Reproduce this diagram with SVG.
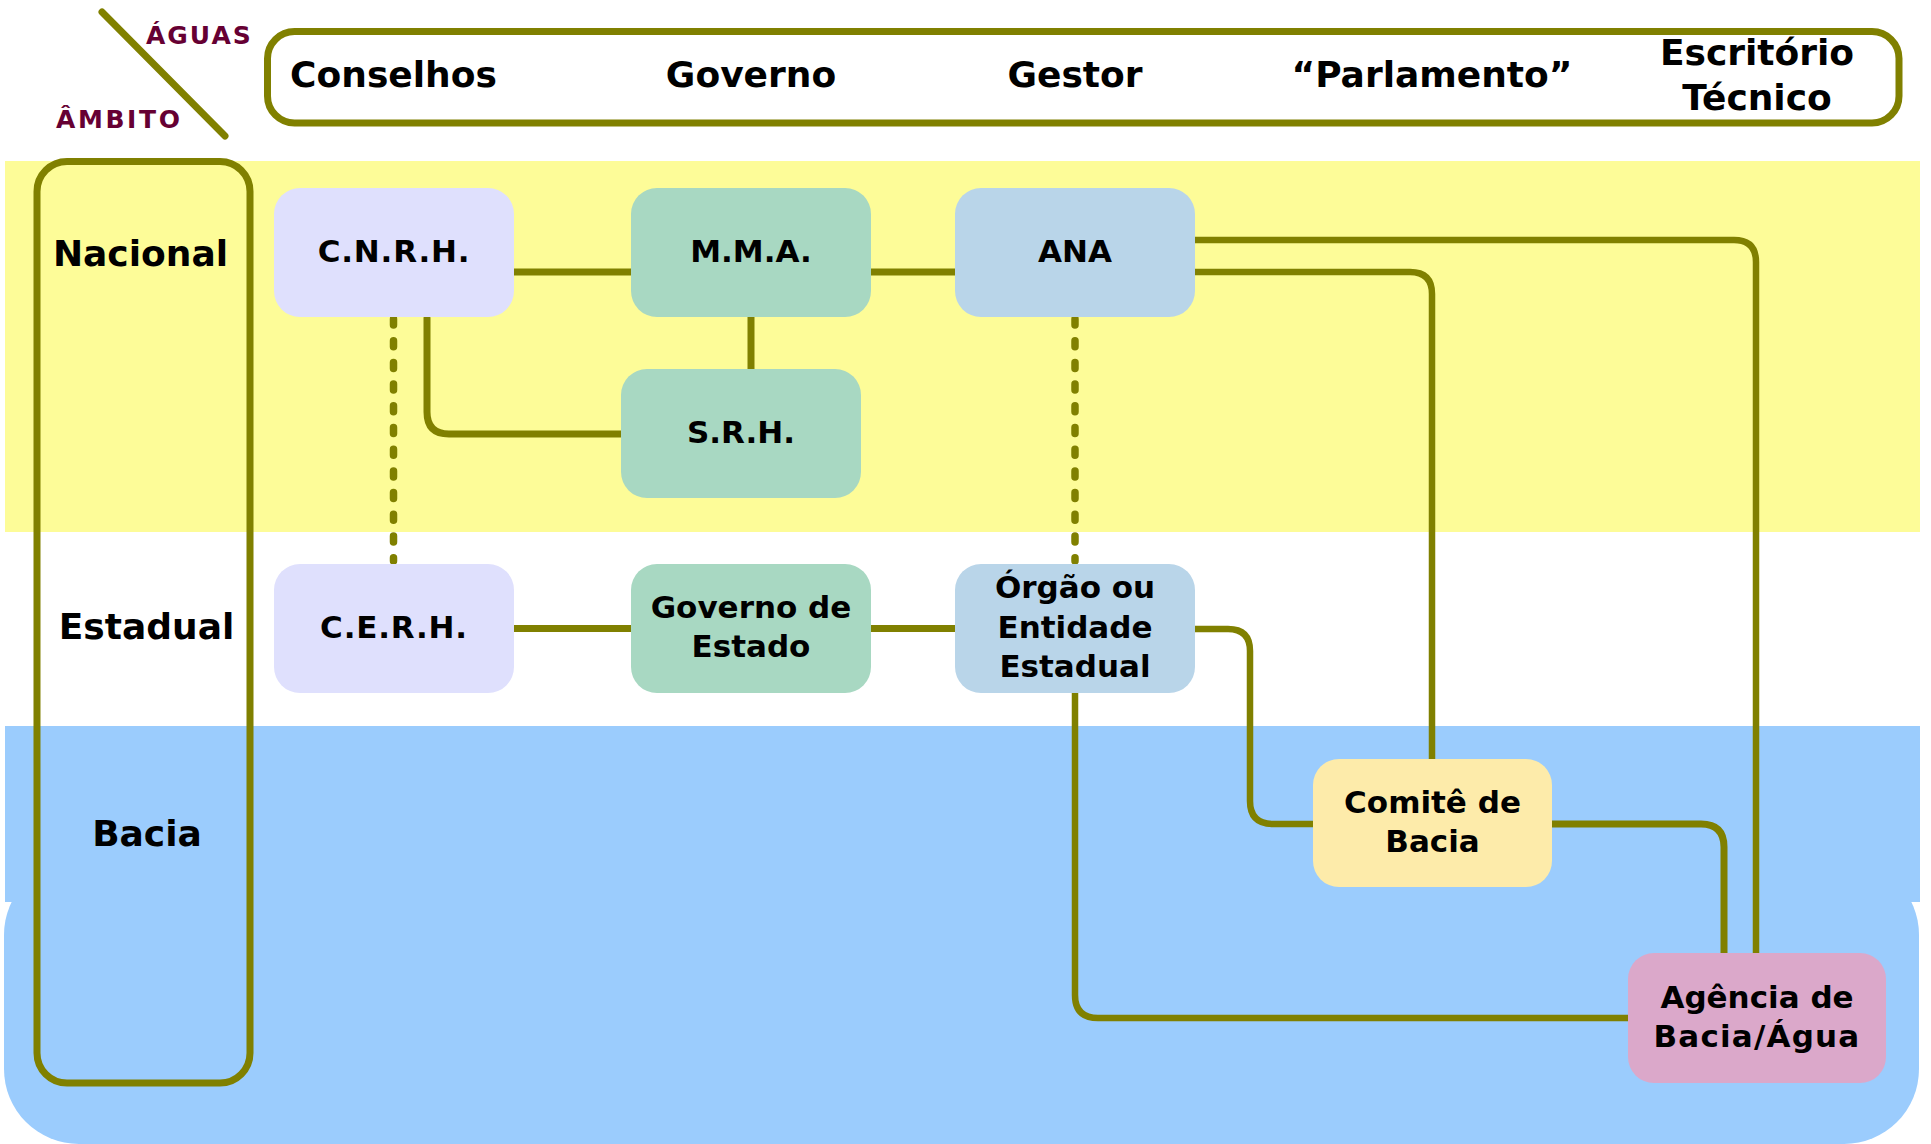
<svg xmlns="http://www.w3.org/2000/svg" width="1931" height="1144" viewBox="0 0 1931 1144">
<defs>
<style>
text{font-family:"DejaVu Sans",Verdana,sans-serif;font-weight:bold;fill:#000;text-anchor:middle}
.hdr{font-size:36px}
.row{font-size:36px}
.nt{font-size:31px}
.tag{font-size:25px;fill:#660033;text-anchor:start}
.frame{fill:none;stroke:#808000;stroke-width:7}
.c{fill:none;stroke:#808000;stroke-width:7;stroke-linecap:round;stroke-linejoin:round}
.cl{fill:none;stroke:#808000;stroke-width:6.5;stroke-linecap:round;stroke-linejoin:round}
.d{fill:none;stroke:#808000;stroke-width:7.5;stroke-linecap:round;stroke-dasharray:6 15.7}
.lav{fill:#DFE0FD}
.mint{fill:#A8D8C2}
.lb{fill:#B9D5E9}
.yel{fill:#FDEBAA}
.pink{fill:#DBA8CA}
</style>
</defs>
<rect width="1931" height="1144" fill="#fff"/>
<!-- bands -->
<g id="bands">
<rect x="5" y="161" width="1915" height="371" fill="#FDFC98"/>
<rect x="4" y="860" width="1915" height="284" rx="75" ry="75" fill="#9BCCFD"/>
<rect x="5" y="726" width="1915" height="176" fill="#9BCCFD"/>
</g>
<!-- corner label -->
<g id="corner">
<line x1="102" y1="12" x2="225" y2="136" class="c"/>
<text class="tag" x="146" y="44" letter-spacing="2">ÁGUAS</text>
<text class="tag" x="56" y="128" letter-spacing="2.6">ÂMBITO</text>
</g>
<!-- header -->
<g id="header">
<rect class="frame" x="267.5" y="31.5" width="1631.5" height="91.5" rx="27" ry="27"/>
<text class="hdr" x="393.5" y="87">Conselhos</text>
<text class="hdr" x="751" y="87">Governo</text>
<text class="hdr" x="1075" y="87">Gestor</text>
<text class="hdr" x="1432" y="87">“Parlamento”</text>
<text class="hdr" x="1757" y="65">Escritório</text>
<text class="hdr" x="1757" y="110">Técnico</text>
</g>
<!-- row labels -->
<g id="rows">
<rect class="frame" x="37" y="161.5" width="213" height="921.5" rx="30" ry="30"/>
<text class="row" x="140.5" y="266">Nacional</text>
<text class="row" x="146.5" y="639">Estadual</text>
<text class="row" x="147" y="846">Bacia</text>
</g>
<!-- connectors -->
<g id="connectors">
<path class="c" d="M514,272 H631"/>
<path class="c" d="M871,272 H955"/>
<path class="c" d="M751,317 V369"/>
<path class="c" d="M427,318 V412 Q427,434 449,434 H622"/>
<path class="d" d="M393.5,319 V561"/>
<path class="d" d="M1075,319 V561"/>
<path class="c" d="M514,628.5 H631"/>
<path class="c" d="M871,628.5 H955"/>
<path class="cl" d="M1190,240 H1734 Q1756,240 1756,262 V955"/>
<path class="cl" d="M1195,272 H1410 Q1432,272 1432,294 V759"/>
<path class="cl" d="M1194,629 H1228 Q1250,629 1250,651 V801 Q1250,824 1273,824 H1313"/>
<path class="c" d="M1552,824 H1701 Q1724,824 1724,847 V953"/>
<path class="cl" d="M1075,693 V995 Q1075,1018 1098,1018 H1628"/>
</g>
<!-- nodes -->
<g id="node-cnrh">
<rect class="lav" x="274" y="188" width="240" height="129" rx="26"/>
<text class="nt" x="394" y="262" letter-spacing="0.8">C.N.R.H.</text>
</g>
<g id="node-mma">
<rect class="mint" x="631" y="188" width="240" height="129" rx="26"/>
<text class="nt" x="751" y="262">M.M.A.</text>
</g>
<g id="node-ana">
<rect class="lb" x="955" y="188" width="240" height="129" rx="26"/>
<text class="nt" x="1075" y="262">ANA</text>
</g>
<g id="node-srh">
<rect class="mint" x="621" y="369" width="240" height="129" rx="26"/>
<text class="nt" x="741" y="443">S.R.H.</text>
</g>
<g id="node-cerh">
<rect class="lav" x="274" y="564" width="240" height="129" rx="26"/>
<text class="nt" x="394" y="638" letter-spacing="0.8">C.E.R.H.</text>
</g>
<g id="node-governo-estado">
<rect class="mint" x="631" y="564" width="240" height="129" rx="26"/>
<text class="nt" x="751" y="618">Governo de</text>
<text class="nt" x="751" y="657">Estado</text>
</g>
<g id="node-orgao">
<rect class="lb" x="955" y="564" width="240" height="129" rx="26"/>
<text class="nt" x="1075" y="598">Órgão ou</text>
<text class="nt" x="1075" y="637.5">Entidade</text>
<text class="nt" x="1075" y="677">Estadual</text>
</g>
<g id="node-comite">
<rect class="yel" x="1313" y="759" width="239" height="128" rx="26"/>
<text class="nt" x="1432.5" y="813">Comitê de</text>
<text class="nt" x="1432.5" y="852">Bacia</text>
</g>
<g id="node-agencia">
<rect class="pink" x="1628" y="953" width="258" height="130" rx="26"/>
<text class="nt" x="1757" y="1008">Agência de</text>
<text class="nt" x="1757" y="1047" letter-spacing="1.2">Bacia/Água</text>
</g>
</svg>
